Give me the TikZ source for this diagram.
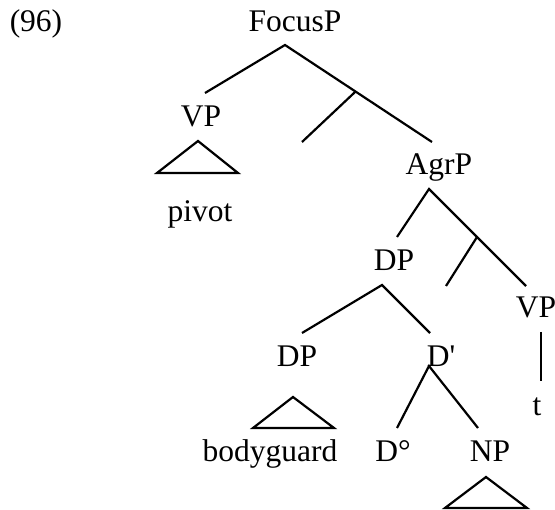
\documentclass[tikz,border=0pt]{standalone}
\usepackage{fontspec}
\setmainfont[Ligatures=TeXOff]{Liberation Serif}
\usepackage{tikz}
\usetikzlibrary{calc}

\begin{document}
\begin{tikzpicture}[
      x=1pt, y=-1pt,
      every node/.style={font=\fontsize{31.5}{36}\selectfont, inner sep=0pt, anchor=base},
      branch/.style={line width=2.2pt, line cap=butt},
      roof/.style={line width=2.2pt, line join=miter},
    ]
    \useasboundingbox (0,0) rectangle (555,510);

    % Labels of the tree
    \node (ex)    at (36,32)   {(96)};
    \node (focus) at (295,32)  {FocusP};
    \node (vpa)   at (201,127) {VP};
    \node (pivot) at (200,222) {pivot};
    \node (agr)   at (439,175) {AgrP};
    \node (dpa)   at (394,271) {DP};
    \node (vpb)   at (536,318) {VP};
    \node (dpb)   at (297,367) {DP};
    \node (dbar)  at (441,367) {D'};
    \node (trace) at (537,416) {t};
    \node (guard) at (270,462) {bodyguard};
    \node (dzero) at (393,462) {D°};
    \node (np)    at (490,462) {NP};

    % Branch points
    \coordinate (focus-top) at (285,45);
    \coordinate (vpa-top)   at (205,93);
    \coordinate (agr-top)   at (432,142);
    \coordinate (fbar-top)  at ($(focus-top)!0.48!(agr-top)$);
    \coordinate (fbar-low)  at (302,142);
    \coordinate (agr-bot)   at (429,189);
    \coordinate (dpa-top)   at (397,237);
    \coordinate (vpb-top)   at (526,286);
    \coordinate (abar-top)  at ($(agr-bot)!0.495!(vpb-top)$);
    \coordinate (abar-low)  at (446,286);
    \coordinate (dpa-bot)   at (382,285);
    \coordinate (dpb-top)   at (302,333);
    \coordinate (dbar-top)  at (430,333);
    \coordinate (dbar-bot)  at (429,366);
    \coordinate (dzero-top) at (397,428);
    \coordinate (np-top)    at (478,428);
    \coordinate (vpb-bot)   at (541,332);
    \coordinate (trace-top) at (541,381);

    % Branches
    \draw[branch] (vpa-top) -- (focus-top) -- (agr-top);
    \draw[branch] (fbar-top) -- (fbar-low);
    \draw[branch] (dpa-top) -- (agr-bot) -- (vpb-top);
    \draw[branch] (abar-top) -- (abar-low);
    \draw[branch] (dpb-top) -- (dpa-bot) -- (dbar-top);
    \draw[branch] (dzero-top) -- (dbar-bot) -- (np-top);
    \draw[branch] (vpb-bot) -- (trace-top);

    % Roofs over unanalysed phrases
    \draw[roof] (157,173) -- (198,141) -- (238,173) -- cycle;
    \draw[roof] (253,428) -- (293,397) -- (334,428) -- cycle;
    \draw[roof] (445,508) -- (486,477) -- (527,508) -- cycle;
  \end{tikzpicture}
\end{document}
